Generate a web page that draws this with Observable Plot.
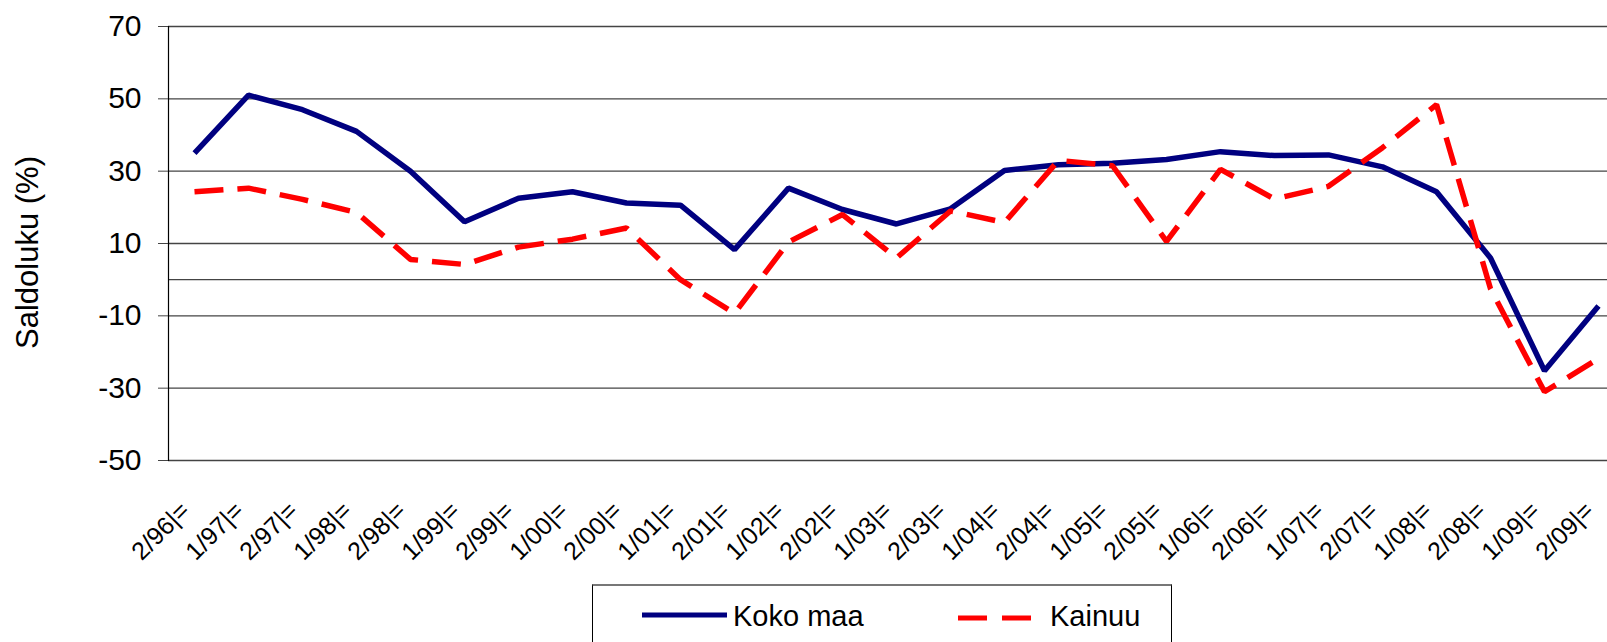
<!DOCTYPE html>
<html>
<head>
<meta charset="utf-8">
<script src="https://cdn.jsdelivr.net/npm/d3@7"></script>
<script src="https://cdn.jsdelivr.net/npm/@observablehq/plot@0.6"></script>
<style>
  html, body { margin: 0; padding: 0; background: #fff; overflow: hidden; width: 1607px; height: 642px; }
  #chart { position: absolute; left: 0; top: 0; }
  #legend { position: absolute; left: 592px; top: 584px; width: 580px; height: 80px;
            box-sizing: border-box; border-left: 1px solid #000; border-right: 1px solid #000;
            border-top: 2px solid #777; background: #fff; }
  #legend svg { position: absolute; left: -1px; top: -2px; overflow: visible; }
</style>
</head>
<body>
<div id="chart"></div>
<div id="legend"></div>
<script>
// ---- data ----
const periods = ["2/96|=","1/97|=","2/97|=","1/98|=","2/98|=","1/99|=","2/99|=","1/00|=","2/00|=","1/01|=",
                 "2/01|=","1/02|=","2/02|=","1/03|=","2/03|=","1/04|=","2/04|=","1/05|=","2/05|=","1/06|=",
                 "2/06|=","1/07|=","2/07|=","1/08|=","2/08|=","1/09|=","2/09|="];
const kokoMaa = [35, 51, 47, 41, 30, 16, 22.5, 24.3, 21.2, 20.6,
                 8.3, 25.3, 19.4, 15.4, 19.6, 30.2, 31.8, 32.2, 33.2, 35.4,
                 34.3, 34.5, 31.2, 24.3, 6, -25.2, -7.3];
const kainuu = [24.3, 25.3, 22.2, 18.6, 5.6, 4.2, 9, 11.2, 14.3, 0,
                -9.3, 10.4, 18, 6, 19, 15.8, 33, 31.5, 10.6, 30.5,
                22.3, 25.8, 36.5, 48.4, -2.5, -31, -21.8];
const seriesNames = ["Koko maa", "Kainuu"];
const seriesColors = ["#000080", "#FF0000"];
const yTicks = [70, 50, 30, 10, -10, -30, -50];
const gridValues = [70, 50, 30, 10, 0, -10, -30, -50];
const yLabel = "Saldoluku (%)";

const rowsKoko = periods.map((p, i) => ({period: p, value: kokoMaa[i], series: seriesNames[0]}));
const rowsKainuu = periods.map((p, i) => ({period: p, value: kainuu[i], series: seriesNames[1]}));

const font = "'Liberation Sans', Arial, sans-serif";

const chart = Plot.plot({
  width: 1607,
  height: 584,
  marginLeft: 168,
  marginRight: 0,
  marginTop: 26,
  marginBottom: 124,
  style: {fontFamily: font, fontSize: "25px", color: "#000", background: "#fff"},
  x: {type: "point", domain: periods, range: [193, 1598], padding: 0},
  y: {domain: [-50, 70]},
  marks: [
    Plot.ruleY(gridValues, {stroke: "#444", strokeWidth: 1.3}),
    Plot.frame({anchor: "left", stroke: "#000", strokeWidth: 1.2}),
    Plot.axisY({ticks: yTicks, tickSize: 10, tickPadding: 17, fontSize: 30, stroke: "#444",
                tickFormat: d => String(d), label: null}),
    Plot.text([yLabel], {frameAnchor: "left", rotate: -90, dx: -140, dy: 9, fontSize: 31,
                         fill: "#000", textAnchor: "middle", lineAnchor: "middle", clip: false}),
    Plot.axisX({tickRotate: -45, tickSize: 0, tickPadding: 46, fontSize: 25, dx: -9, label: null}),
    Plot.line(rowsKoko, {x: "period", y: "value", stroke: seriesColors[0], strokeWidth: 5.5,
                         strokeLinejoin: "miter", strokeLinecap: "butt"}),
    Plot.line(rowsKainuu, {x: "period", y: "value", stroke: seriesColors[1], strokeWidth: 5.5,
                           strokeDasharray: "29,14", strokeLinejoin: "miter", strokeLinecap: "butt"})
  ]
});
document.getElementById("chart").appendChild(chart);

// ---- legend ----
const lg = d3.select("#legend").append("svg").attr("width", 600).attr("height", 80);
const items = [
  {name: seriesNames[0], color: seriesColors[0], x1: 50, x2: 135, ly: 31, tx: 141, dash: null},
  {name: seriesNames[1], color: seriesColors[1], x1: 366, x2: 440, ly: 34, tx: 458, dash: "29,15"}
];
for (const it of items) {
  lg.append("line").attr("x1", it.x1).attr("x2", it.x2).attr("y1", it.ly).attr("y2", it.ly)
    .attr("stroke", it.color).attr("stroke-width", 5).attr("stroke-dasharray", it.dash);
  lg.append("text").attr("x", it.tx).attr("y", 42).attr("font-family", font)
    .attr("font-size", 29).attr("fill", "#000").text(it.name);
}
</script>
</body>
</html>
